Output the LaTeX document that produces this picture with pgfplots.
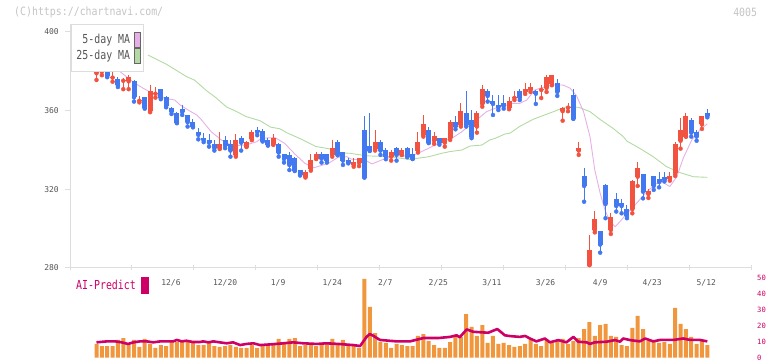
\documentclass[border=0pt]{standalone}
\usepackage{graphicx}
\usepackage{pgfplots}
\pgfplotsset{compat=1.18}
\usepackage{pgfplotstable}
\usepackage{fontspec}
\setmainfont{DejaVu Sans Mono}
\definecolor{upRed}{HTML}{F25340}
\definecolor{downBlue}{HTML}{4278F0}
\definecolor{maPink}{HTML}{E6B0E6}
\definecolor{maGreen}{HTML}{B2DAA2}
\definecolor{volOrange}{HTML}{F0963C}
\definecolor{aiRed}{HTML}{CC0066}
\definecolor{axisGray}{HTML}{DDDDDD}
\definecolor{labelGray}{HTML}{555555}
\definecolor{copyGray}{HTML}{C4C4C4}
\newcommand{\bigfont}{\fontsize{9.9bp}{11bp}\selectfont}
\newcommand{\smallfont}{\fontsize{8bp}{9bp}\selectfont}
\newcommand{\tall}[1]{\scalebox{1}[1.25]{#1}}

\pgfplotstableread{
i O H L C
-1 382.8 383.2 382.8 383.2
0 379.0 382.4 375.6 380.3
1 379.7 385.0 378.0 381.2
2 380.3 384.7 377.0 377.6
3 376.8 380.7 374.7 377.3
4 376.1 377.0 372.0 372.9
5 375.2 376.5 370.9 375.7
6 374.9 378.0 370.9 377.3
7 375.2 375.5 364.6 366.8
8 365.0 367.5 364.2 365.6
9 366.8 367.0 361.0 361.5
10 359.7 372.9 359.2 370.2
11 368.6 371.9 366.6 369.2
12 371.0 371.2 365.8 366.4
13 366.8 367.5 361.7 362.5
14 361.2 362.0 358.3 359.5
15 359.0 359.5 353.6 353.9
16 361.0 362.7 357.8 359.3
17 357.8 358.0 351.9 354.1
18 354.4 356.0 351.5 351.9
19 349.2 351.4 345.4 347.7
20 346.3 348.5 344.0 344.9
21 345.1 348.1 341.7 343.7
22 343.1 345.1 339.7 340.9
23 340.9 349.2 340.5 343.1
24 345.1 347.1 340.9 342.1
25 343.1 345.1 336.6 339.7
26 337.5 348.1 336.6 345.1
27 346.0 347.1 339.7 343.7
28 341.7 344.5 341.5 343.9
29 345.5 350.3 345.0 349.3
30 350.3 351.5 347.5 349.0
31 349.7 350.5 344.3 344.6
32 345.1 346.0 342.2 342.6
33 342.9 348.1 342.6 346.3
34 343.1 343.5 336.6 338.7
35 338.0 338.2 333.6 335.4
36 337.2 339.2 329.8 332.4
37 336.0 336.3 329.3 329.5
38 329.9 330.0 327.0 327.5
39 326.5 329.9 326.0 328.8
40 330.5 338.0 329.5 334.9
41 335.6 339.0 335.4 338.0
42 338.0 339.0 333.6 335.6
43 338.0 338.2 333.6 334.6
44 337.6 345.0 336.6 341.0
45 344.1 345.1 337.3 337.5
46 339.0 339.2 332.4 334.6
47 334.9 335.9 333.2 333.6
48 332.4 335.9 331.5 333.9
49 333.4 336.0 331.8 335.9
50 350.2 357.3 326.0 326.0
51 342.0 359.0 339.5 339.7
52 340.4 350.2 339.7 344.1
53 344.1 345.1 337.5 339.7
54 340.0 341.0 335.3 336.6
55 336.6 340.0 334.6 339.0
56 341.0 341.7 334.6 337.5
57 337.5 341.0 337.5 340.0
58 341.0 341.7 336.3 336.6
59 338.0 341.0 335.4 335.4
60 339.7 349.2 338.7 344.2
61 347.6 357.8 346.8 353.2
62 350.2 351.5 343.5 343.7
63 344.7 349.2 343.1 347.1
64 346.1 346.1 342.7 343.7
65 343.7 346.1 341.7 346.1
66 345.9 355.4 345.1 354.4
67 354.4 357.3 350.5 351.9
68 352.7 364.1 351.9 360.0
69 359.0 370.2 351.9 352.7
70 355.3 360.3 346.0 346.8
71 351.9 360.0 348.8 359.0
72 363.4 373.2 362.0 371.2
73 370.2 371.2 364.6 367.5
74 365.1 368.0 357.8 363.4
75 363.0 368.0 360.3 361.6
76 364.1 368.0 361.0 362.4
77 361.4 366.8 360.7 365.1
78 366.5 370.2 365.4 367.1
79 370.2 371.2 365.4 366.6
80 369.7 373.9 368.5 371.2
81 370.5 373.9 369.5 372.0
82 370.0 370.3 363.4 368.6
83 370.5 373.0 366.4 371.1
84 371.5 378.3 369.5 377.3
85 373.6 378.3 372.9 378.1
86 374.1 376.1 367.5 369.5
87 359.7 362.0 354.9 361.2
88 361.5 363.9 359.7 362.1
89 368.0 371.0 355.9 355.9
90 339.7 344.2 337.5 341.0
91 326.8 330.7 313.7 321.7
92 281.5 296.8 281.5 289.2
93 299.3 309.0 298.1 304.9
94 298.6 299.0 287.8 291.9
95 322.2 322.5 305.3 312.5
96 299.3 307.8 297.3 305.9
97 315.1 318.0 308.7 311.5
98 312.9 315.1 307.8 311.5
99 310.0 312.0 305.3 306.4
100 309.9 324.5 307.8 324.2
101 326.4 334.1 321.7 330.8
102 327.8 328.0 315.4 318.8
103 317.6 320.3 315.6 319.0
104 326.6 326.8 319.7 321.7
105 325.1 328.8 321.0 323.7
106 326.4 328.8 324.0 324.8
107 325.4 328.8 324.4 326.8
108 328.1 344.1 326.8 343.0
109 344.7 356.1 340.7 350.2
110 346.8 359.0 346.8 357.3
111 355.3 356.4 346.8 348.8
112 349.2 350.2 344.7 346.8
113 353.0 357.3 350.7 357.3
114 359.0 360.7 356.6 357.3
}\candles

\pgfplotstableread{
i p
4.3 380.0
6.8 374.7
7.75 373.0
8.7 371.4
10.3 369.0
12.7 366.3
14.6 365.4
15.6 362.9
17.1 360.3
18.7 357.8
19.6 355.3
21.4 349.3
23.3 345.1
25.5 342.0
28.0 342.6
29.9 344.2
30.8 346.0
33.3 346.3
35.1 343.4
37.0 338.0
38.9 333.2
40.6 331.0
43.3 333.2
45.1 336.3
46.7 336.6
47.6 335.3
50.1 334.9
51.4 332.9
53.2 334.9
55.7 337.0
58.8 337.0
60.7 339.2
62.6 341.7
64.4 344.2
66.3 345.9
68.2 349.3
69.7 352.7
71.3 356.1
72.8 359.5
74.4 361.2
76.2 362.5
77.5 363.7
79.0 363.7
80.3 365.4
81.8 370.5
83.4 371.9
85.3 373.1
87.1 373.0
88.4 371.4
89.6 367.5
90.9 359.5
92.1 346.8
93.0 329.8
94.0 318.0
94.9 309.5
95.8 303.6
96.8 301.0
97.7 303.6
99.0 307.8
100.8 312.9
102.7 318.8
104.6 323.1
105.8 323.4
107.0 321.4
108.3 326.4
109.5 335.8
111.1 345.1
112.6 350.2
114.0 353.3
}\maFive

\pgfplotstableread{
i p
9.6 388.3
13.1 383.5
16.8 377.3
18.3 375.5
20.6 370.0
22.1 367.0
24.3 361.8
25.8 360.0
28.0 356.9
30.5 354.9
32.5 351.6
34.2 350.8
35.7 348.5
38.0 345.8
40.9 341.8
43.6 340.5
45.5 338.6
47.3 338.3
50.5 337.0
54.8 336.6
58.3 335.2
61.9 336.5
64.4 338.3
66.0 339.2
68.2 340.0
69.7 342.0
71.9 342.5
73.4 345.1
74.4 345.9
76.2 348.1
77.2 348.6
79.0 352.0
81.5 355.6
85.3 359.5
87.7 362.0
90.0 361.7
92.1 359.5
94.0 355.5
96.5 350.8
98.3 346.8
99.0 344.5
101.4 340.8
103.9 336.6
106.4 331.5
108.9 328.5
111.4 326.4
114.0 326.1
}\maTwentyFive

\pgfplotstableread{
i v
0 8.6
1 7.3
2 7.3
3 7.3
4 11.1
5 12.3
6 7.9
7 11.1
8 6.7
9 11.7
10 8.6
11 6.1
12 7.9
13 7.3
14 10.4
15 9.8
16 9.8
17 10.4
18 9.2
19 7.9
20 7.9
21 9.2
22 7.3
23 6.7
24 7.3
25 7.9
26 6.7
27 6.1
28 6.1
29 7.9
30 6.1
31 7.3
32 8.6
33 8.6
34 11.7
35 9.8
36 11.7
37 12.3
38 7.3
39 7.9
40 8.6
41 7.3
42 7.9
43 8.6
44 11.7
45 7.9
46 11.1
47 7.3
48 7.3
49 6.1
50 49.2
51 31.7
52 15.4
53 9.8
54 9.2
55 6.1
56 8.6
57 7.9
58 7.3
59 7.3
60 13.6
61 14.8
62 10.4
63 7.9
64 6.1
65 6.1
66 9.8
67 13.6
68 13.0
69 27.3
70 19.2
71 13.6
72 20.4
73 9.2
74 13.6
75 8.6
76 9.2
77 7.9
78 6.7
79 7.3
80 8.6
81 11.7
82 8.6
83 7.3
84 11.1
85 9.2
86 11.1
87 11.7
88 8.6
89 10.4
90 12.3
91 17.9
92 22.3
93 13.6
94 20.4
95 21.1
96 13.6
97 13.0
98 7.9
99 7.3
100 18.6
101 26.1
102 17.9
103 10.4
104 9.8
105 9.2
106 9.8
107 8.6
108 31.1
109 21.1
110 17.9
111 13.0
112 8.6
113 10.4
114 7.9
}\volume

\pgfplotstableread{
i p
0 9.6
1.9 10.2
3.5 10.2
4.7 9.6
5.9 8.6
6.9 9.6
8.1 10.2
9.4 10.2
10.6 9.6
11.9 10.2
14.3 10.2
15 11.1
15.9 10.2
16.8 10.6
18 9.8
19.3 9.8
19.9 10.2
20.9 9.6
21.8 10.2
23 9.6
24.3 9.0
25.5 9.6
26.8 7.9
28 8.6
29.3 9.0
30.5 7.9
32.4 8.3
34.9 9.0
36.7 9.6
38.6 9.0
41.1 8.6
42.9 9.0
45.1 8.6
47.9 7.9
49.2 7.3
50.4 13.0
51.0 14.8
51.6 13.8
52.9 11.1
56 10.2
58.5 10.2
61 12.3
63.8 12.3
66 13.0
67.2 14.0
67.8 12.8
69.1 17.7
70.3 16.2
73.1 15.6
74.8 17.9
75.5 16.0
76.2 14.0
77.2 13.5
79 13.0
80 13.6
80.9 12.0
82.1 10.2
83.7 12.0
84.6 9.6
86.2 11.0
87.7 9.6
89 13.0
89.9 10.0
91.5 9.6
92.1 8.6
93 9.6
95.2 10.0
96.8 11.0
97.7 10.0
98.3 12.0
99.6 11.0
101.4 10.2
102.4 12.0
103.9 10.2
105.2 11.1
107.7 11.1
109.5 12.0
110.8 11.1
112.6 11.1
114 10.2
}\aipredict

\begin{document}
\begin{tikzpicture}
\useasboundingbox (0,0) rectangle (772bp,361bp);
% ---------- upper price panel ----------
\begin{axis}[
  at={(70bp,93bp)}, anchor=south west,
  scale only axis, width=682bp, height=244bp,
  xmin=-4.946, xmax=122.34, ymin=280, ymax=404.05,
  axis x line*=bottom, axis y line*=left,
  axis line style={draw=axisGray, line width=1bp, -},
  tick align=outside, major tick length=5bp,
  tick style={draw=axisGray, line width=1bp},
  ytick={280,320,360,400}, yticklabels={280,320,360,400},
  yticklabel style={font=\smallfont, text=labelGray, anchor=east, inner sep=0pt, xshift=-6bp},
  xtick={-4.946,6.625,18.196,29.767,41.338,52.909,64.48,76.051,87.622,99.193,110.764,122.335},
  xticklabels={},
  major x tick style={yshift=3bp},
  extra x ticks={13.9,24,33.9,44,53.9,63.8,73.8,83.8,94,103.7,113.8},
  extra x tick labels={12/6,12/20,1/9,1/24,2/7,2/25,3/11,3/26,4/9,4/23,5/12},
  extra x tick style={major tick length=0pt, tick label style={font=\smallfont, text=labelGray, anchor=base, inner sep=0pt, yshift=-17.4bp}},
  legend style={at={(0.001,1)}, anchor=north west, draw=axisGray, line width=1bp, fill=white,
    inner xsep=2.3bp, inner ysep=7.5bp, row sep=0bp, column sep=0.7bp,
    nodes={inner xsep=3bp, inner ysep=0bp, minimum height=16bp, text=labelGray, font=\bigfont}},
  legend plot pos=right, legend cell align=right,
  legend image code/.code={\draw[#1, draw=black!60, line width=0.8bp] (0bp,-7.6bp) rectangle (6.4bp,7.6bp);},
]
\addlegendimage{fill=maPink}
\addlegendentry{\tall{5-day MA}}
\addlegendimage{fill=maGreen}
\addlegendentry{\tall{25-day MA}}
\addplot[forget plot, maGreen, line width=0.9bp] table[x=i, y=p] {\maTwentyFive};
\addplot[forget plot, maPink, line width=0.9bp] table[x=i, y=p] {\maFive};
% wicks
\addplot[forget plot, only marks, mark=none, upRed,
  restrict expr to domain={\thisrow{C}-\thisrow{O}}{0:10000},
  error bars/.cd, y dir=plus, y explicit, error mark=none,
  error bar style={line width=1bp, upRed}]
  table[x=i, y=L, y error expr=\thisrow{H}-\thisrow{L}] {\candles};
\addplot[forget plot, only marks, mark=none, downBlue,
  restrict expr to domain={\thisrow{C}-\thisrow{O}}{-10000:-0.00001},
  error bars/.cd, y dir=plus, y explicit, error mark=none,
  error bar style={line width=1bp, downBlue}]
  table[x=i, y=L, y error expr=\thisrow{H}-\thisrow{L}] {\candles};
% bodies
\addplot[forget plot, only marks, mark=none, upRed,
  restrict expr to domain={\thisrow{C}-\thisrow{O}}{0:10000},
  error bars/.cd, y dir=plus, y explicit, error mark=none,
  error bar style={line width=5bp, upRed}]
  table[x=i, y=O, y error expr=\thisrow{C}-\thisrow{O}] {\candles};
\addplot[forget plot, only marks, mark=none, downBlue,
  restrict expr to domain={\thisrow{C}-\thisrow{O}}{-10000:-0.00001},
  error bars/.cd, y dir=plus, y explicit, error mark=none,
  error bar style={line width=5bp, downBlue}]
  table[x=i, y=C, y error expr=\thisrow{O}-\thisrow{C}] {\candles};
\end{axis}
% ---------- lower volume / AI panel ----------
\begin{axis}[
  at={(70bp,3.3bp)}, anchor=south west,
  scale only axis, width=682bp, height=80bp,
  xmin=-4.946, xmax=122.34, ymin=0, ymax=50,
  axis x line=none, axis y line*=right,
  y axis line style={draw=none},
  major tick length=0pt,
  ytick={0,10,20,30,40,50}, yticklabels={0,10,20,30,40,50},
  yticklabel style={font=\fontsize{7.2bp}{8bp}\selectfont, text=aiRed, anchor=west, inner sep=0pt, xshift=5bp},
  clip=false,
  legend style={at={(0.00587,1.00875)}, anchor=north west, draw=none, fill=none,
    inner sep=0bp, column sep=3.3bp,
    nodes={inner xsep=2bp, inner ysep=0bp, minimum height=15.7bp, text=aiRed, font=\bigfont}},
  legend plot pos=right,
  legend image code/.code={\fill[aiRed] (0bp,-7.85bp) rectangle (6.4bp,7.85bp);},
]
\addlegendimage{aiRed}
\addlegendentry{\tall{AI-Predict}}
\addplot[forget plot, ybar, bar width=4bp, fill=volOrange, draw=none] table[x=i, y=v] {\volume};
\addplot[forget plot, aiRed, line width=2.6bp, line join=round] table[x=i, y=p] {\aipredict};
\end{axis}
\node[anchor=west, inner sep=0pt, text=copyGray, font=\bigfont] at (14bp,348.5bp) {\scalebox{1}[1.15]{(C)https://chartnavi.com/}};
\node[anchor=east, inner sep=0pt, text=copyGray, font=\bigfont] at (757.3bp,349bp) {\scalebox{1}[1.15]{4005}};
\end{tikzpicture}
\end{document}
